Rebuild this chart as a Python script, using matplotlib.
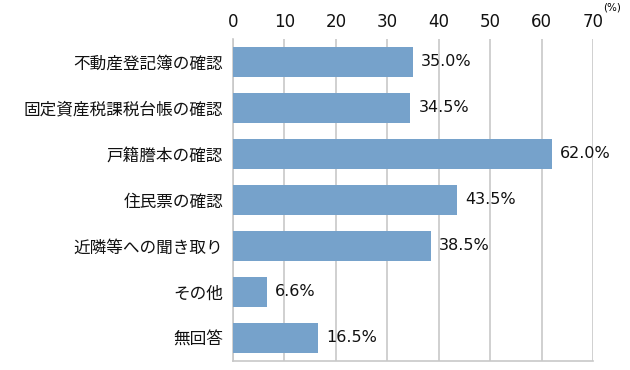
import matplotlib
matplotlib.use("Agg")
import matplotlib.pyplot as plt

plt.rcParams['font.family'] = ['Noto Sans CJK JP', 'DejaVu Sans']

categories = ["不動産登記簿の確認", "固定資産税課税台帳の確認", "戸籍謄本の確認",
              "住民票の確認", "近隣等への聞き取り", "その他", "無回答"]
values = [35.0, 34.5, 62.0, 43.5, 38.5, 6.6, 16.5]
ticks = [0, 10, 20, 30, 40, 50, 60, 70]

fig = plt.figure(figsize=(6.3, 3.7), dpi=100)
ax = fig.add_axes([233 / 630, 9 / 370, 360 / 630, 322 / 370])

y = list(range(len(categories)))
ax.barh(y, values, height=0.65, color="#76a2cb", zorder=3)
ax.set_ylim(len(categories) - 0.5, -0.5)
ax.set_xlim(0, 70)
ax.set_xticks(ticks)
ax.xaxis.tick_top()
ax.tick_params(axis='x', length=0, labelsize=12, pad=6, colors="#111111")
for lbl in ax.get_xticklabels():
    lbl.set_family("DejaVu Sans")
ax.tick_params(axis='y', length=0, labelsize=12, pad=7, colors="#111111")
ax.set_yticks(y)
ax.set_yticklabels(categories)
ax.grid(axis='x', color="#c8c8c8", linewidth=1.2, zorder=0)
for s in ["top", "right"]:
    ax.spines[s].set_visible(False)
for s in ["left", "bottom"]:
    ax.spines[s].set_color("#c8c8c8")
    ax.spines[s].set_linewidth(1.2)

for yi, v in zip(y, values):
    ax.text(v + 1.6, yi, f"{v:.1f}%", va="center", ha="left", fontsize=11.5,
            family="DejaVu Sans", color="#111111")

fig.text(612 / 630, 1 - 8 / 370, "(%)", fontsize=7.5, ha="center", va="center",
         family="DejaVu Sans")

fig.savefig("out.png", dpi=100)
